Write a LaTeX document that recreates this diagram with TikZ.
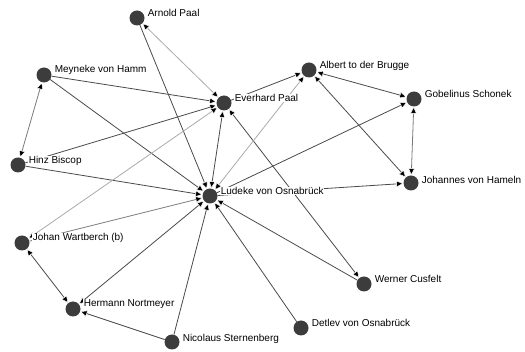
\documentclass[tikz,border=0pt]{standalone}
\usepackage{fontspec}
\setmainfont{Liberation Sans}
\usetikzlibrary{arrows.meta}
\definecolor{nodegray}{HTML}{3C3C3C}
\definecolor{darkedge}{HTML}{4A4A4A}
\definecolor{midedge}{HTML}{7A7A7A}
\definecolor{lightedge}{HTML}{AAAAAA}
\begin{document}
\begin{tikzpicture}[x=1pt,y=-1pt,
  actor/.style={circle, fill=nodegray, minimum size=15pt, inner sep=0pt},
  lbl/.style={anchor=west, font=\fontsize{10}{12}\selectfont, fill=white, inner sep=0.6pt},
  tie/.style={draw=darkedge, line width=0.8pt},
  midtie/.style={draw=midedge, line width=0.8pt},
  faint/.style={draw=lightedge, line width=0.8pt},
  >={Triangle[length=7pt,width=6.5pt,color=white,fill=black,line width=0.5pt]}]
\useasboundingbox (0,0) rectangle (525,352);

% actors
\node[actor] (arnold)    at (137,18)  {};
\node[actor] (meyneke)   at (44,75)   {};
\node[actor] (everhard)  at (224,103) {};
\node[actor] (hinz)      at (18,165)  {};
\node[actor] (albert)    at (309,70)  {};
\node[actor] (gobelinus) at (414,99)  {};
\node[actor] (johannes)  at (411,183) {};
\node[actor] (ludeke)    at (210,196) {};
\node[actor] (johan)     at (22,243)  {};
\node[actor] (hermann)   at (73,309)  {};
\node[actor] (nicolaus)  at (172,342) {};
\node[actor] (werner)    at (364,284) {};
\node[actor] (detlev)    at (301,328) {};

% ties
\draw[faint,<->]  (arnold) -- (everhard);
\draw[tie,->]     (arnold) -- (ludeke);
\draw[tie,->]     (meyneke) -- (everhard);
\draw[tie,->]     (meyneke) -- (ludeke);
\draw[midtie,<->] (meyneke) -- (hinz);
\draw[tie,->]     (hinz) -- (everhard);
\draw[tie,->]     (hinz) -- (ludeke);
\draw[faint,<->]  (johan) -- (everhard);
\draw[midtie,->]  (johan) -- (ludeke);
\draw[tie,<->]    (johan) -- (hermann);
\draw[tie,<->]    (hermann) -- (ludeke);
\draw[tie,->]     (nicolaus) -- (hermann);
\draw[tie,->]     (nicolaus) -- (ludeke);
\draw[tie,->]     (detlev) -- (ludeke);
\draw[tie,->]     (werner) -- (ludeke);
\draw[tie,<->]    (everhard) -- (werner);
\draw[tie,<->]    (ludeke) -- (everhard);
\draw[tie,->]     (everhard) -- (albert);
\draw[faint,<->]  (ludeke) -- (albert);
\draw[tie,->]     (ludeke) -- (gobelinus);
\draw[tie,->]     (ludeke) -- (johannes);
\draw[tie,<->]    (albert) -- (gobelinus);
\draw[tie,<->]    (albert) -- (johannes);
\draw[midtie,<->] (gobelinus) -- (johannes);

% labels
\node[lbl] (arnold-l)    at ([shift={(10,-5)}]arnold.center)    {Arnold Paal};
\node[lbl] (meyneke-l)   at ([shift={(10,-5)}]meyneke.center)   {Meyneke von Hamm};
\node[lbl] (everhard-l)  at ([shift={(10,-5)}]everhard.center)  {Everhard Paal};
\node[lbl] (hinz-l)      at ([shift={(10,-4)}]hinz.center)      {Hinz Biscop};
\node[lbl] (albert-l)    at ([shift={(10,-4)}]albert.center)    {Albert to der Brugge};
\node[lbl] (gobelinus-l) at ([shift={(10,-5)}]gobelinus.center) {Gobelinus Schonek};
\node[lbl] (johannes-l)  at ([shift={(10,-3)}]johannes.center)  {Johannes von Hameln};
\node[lbl] (ludeke-l)    at ([shift={(10,-5)}]ludeke.center)    {Ludeke von Osnabrück};
\node[lbl] (johan-l)     at ([shift={(10,-5)}]johan.center)     {Johan Wartberch (b)};
\node[lbl] (hermann-l)   at ([shift={(10,-5)}]hermann.center)   {Hermann Nortmeyer};
\node[lbl] (nicolaus-l)  at ([shift={(10,-3)}]nicolaus.center)  {Nicolaus Sternenberg};
\node[lbl] (werner-l)    at ([shift={(10,-5)}]werner.center)    {Werner Cusfelt};
\node[lbl] (detlev-l)    at ([shift={(10,-5)}]detlev.center)    {Detlev von Osnabrück};
\end{tikzpicture}
\end{document}
